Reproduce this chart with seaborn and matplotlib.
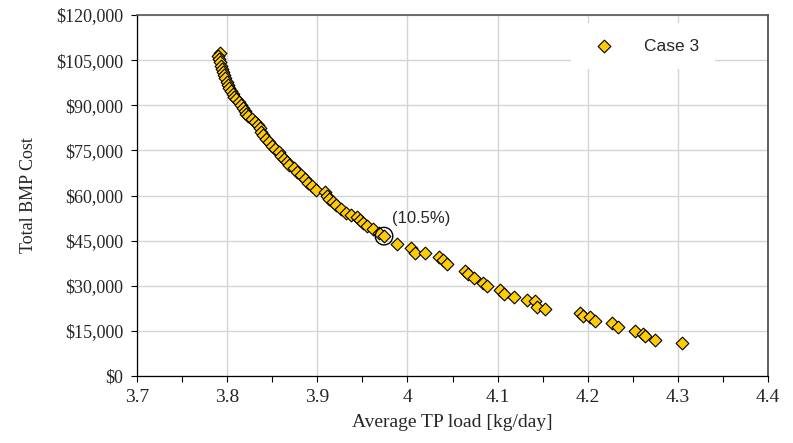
import matplotlib
matplotlib.use("Agg")
import matplotlib.pyplot as plt
import seaborn as sns
import pandas as pd
from matplotlib.ticker import MultipleLocator, FuncFormatter

tp_load = [3.792, 3.790, 3.791, 3.792, 3.793, 3.794, 3.795, 3.797, 3.798, 3.800,
           3.801, 3.802, 3.804, 3.806, 3.808, 3.810, 3.813, 3.815, 3.818, 3.820,
           3.821, 3.823, 3.827, 3.831, 3.834, 3.836, 3.838, 3.840, 3.843, 3.846,
           3.850, 3.853, 3.857, 3.860, 3.863, 3.866, 3.869, 3.874, 3.878, 3.882,
           3.886, 3.890, 3.894, 3.898, 3.908, 3.911, 3.913, 3.917, 3.921, 3.926,
           3.932, 3.937, 3.944, 3.947, 3.951, 3.955, 3.962, 3.968, 3.974, 3.988,
           4.004, 4.008, 4.020, 4.035, 4.039, 4.044, 4.064, 4.067, 4.074, 4.084,
           4.088, 4.103, 4.107, 4.118, 4.133, 4.142, 4.144, 4.153, 4.191, 4.195,
           4.203, 4.208, 4.227, 4.234, 4.252, 4.261, 4.263, 4.275, 4.305]
bmp_cost = [107500, 106500, 105500, 104500, 103200, 102000, 101000, 100000, 99000, 97800,
            96800, 95800, 94800, 93800, 92800, 92000, 91000, 90000, 89000, 88000,
            87000, 86300, 85500, 84500, 83500, 82500, 81200, 80000, 78800, 77800,
            76500, 75500, 74500, 73300, 72200, 71000, 70000, 69000, 67800, 66700,
            65500, 64300, 63000, 61800, 61300, 60000, 59000, 57800, 56800, 55500,
            54300, 53500, 52800, 51800, 51000, 50000, 48900, 47600, 46500, 43900,
            42500, 40900, 40900, 39600, 38600, 37200, 34900, 33900, 32600, 30900,
            29900, 28600, 27300, 26300, 25300, 24900, 22900, 22300, 20900, 19900,
            19600, 18300, 17600, 16300, 15000, 13900, 13300, 12000, 11000]
series_name = "Case 3"
highlight_x, highlight_y = 3.974, 46500
highlight_label = "(10.5%)"

df = pd.DataFrame({"x": tp_load, "y": bmp_cost})

sns.set_style("white")
plt.rcParams["font.family"] = ["Liberation Serif", "DejaVu Sans"]

fig = plt.figure(figsize=(7.93, 4.43), dpi=100)
ax = fig.add_axes([0.1728, 0.1512, 0.7957, 0.8149])

sns.scatterplot(data=df, x="x", y="y", ax=ax, marker="D", s=42,
                color="#FFCC00", edgecolor="black", linewidth=0.8,
                label=series_name, zorder=3)

ax.set_xlim(3.7, 4.4)
ax.set_ylim(0, 120000)
ax.xaxis.set_major_locator(MultipleLocator(0.1))
ax.xaxis.set_minor_locator(MultipleLocator(0.05))
ax.yaxis.set_major_locator(MultipleLocator(15000))
ax.xaxis.set_major_formatter(FuncFormatter(lambda v, p: f"{v:.0f}" if abs(v - round(v)) < 1e-9 else f"{v:.1f}"))
ax.yaxis.set_major_formatter(FuncFormatter(lambda v, p: f"${v:,.0f}"))

ax.grid(True, which="major", color="#d4d4d4", linewidth=1.0)
ax.set_axisbelow(True)

ax.tick_params(axis="both", which="major", direction="out", length=4, width=0.8,
               color="black", bottom=True, left=True)
ax.tick_params(axis="x", which="major", labelsize=14, pad=5)
ax.tick_params(axis="y", which="major", labelsize=13, pad=6)
ax.tick_params(axis="x", which="minor", direction="out", length=4, width=0.8,
               color="black", bottom=True)

for s in ["left", "bottom"]:
    ax.spines[s].set_color("black")
    ax.spines[s].set_linewidth(0.9)
ax.spines["top"].set_color("#555555")
ax.spines["top"].set_linewidth(1.2)
ax.spines["right"].set_color("#444444")
ax.spines["right"].set_linewidth(1.2)

ax.set_xlabel("Average TP load [kg/day]", fontsize=14, labelpad=6)
ax.set_ylabel("Total BMP Cost", fontsize=13, labelpad=14)

ax.scatter([highlight_x], [highlight_y], s=160, facecolor="none",
           edgecolor="black", linewidth=1.0, zorder=4)
ax.text(3.983, 52500, highlight_label, fontsize=12, family="Liberation Sans",
        ha="left", va="center")

leg = ax.legend(loc="center", bbox_to_anchor=(0.802, 0.914), frameon=True,
                prop={"family": "Liberation Sans", "size": 12.5},
                handletextpad=1.3, borderpad=0.9, markerscale=1.0)
leg.get_frame().set_facecolor("white")
leg.get_frame().set_edgecolor("none")
leg.get_frame().set_alpha(1.0)

fig.savefig("out.png", dpi=100)
